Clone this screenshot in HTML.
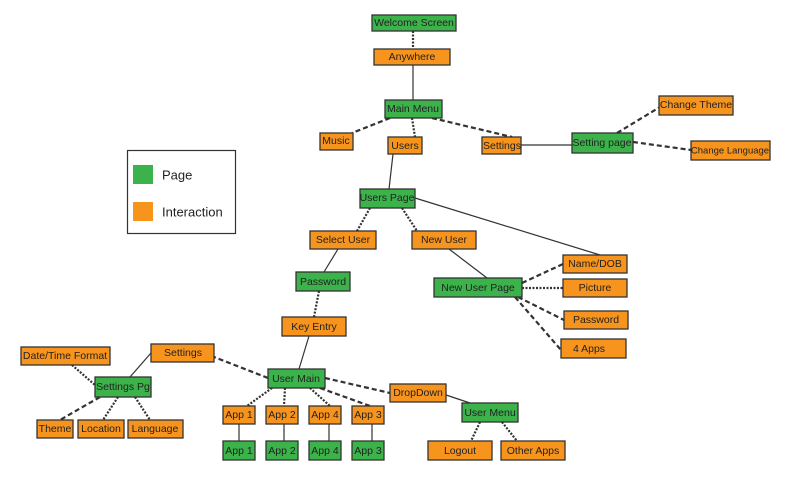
<!DOCTYPE html>
<html><head><meta charset="utf-8"><style>
html,body{margin:0;padding:0;background:#fff;}
svg{display:block;}
text{font-family:"Liberation Sans",sans-serif;font-size:10.5px;fill:#222;text-anchor:middle;dominant-baseline:central;}
.g{fill:#3bb34a;stroke:#333;stroke-width:1.3;}
.o{fill:#f7941d;stroke:#333;stroke-width:1.3;}
.s{stroke:#333;stroke-width:1.2;fill:none;}
.d{stroke:#333;stroke-width:2.2;stroke-dasharray:5,3;fill:none;}
.t{stroke:#333;stroke-width:2.2;stroke-dasharray:2,1.5;fill:none;}
</style></head><body>
<svg width="800" height="493" viewBox="0 0 800 493">
<line class="t" x1="413" y1="31" x2="413" y2="49"/>
<line class="s" x1="413" y1="65" x2="413" y2="100"/>
<line class="d" x1="390" y1="118" x2="352" y2="133"/>
<line class="t" x1="412" y1="118" x2="415" y2="137"/>
<line class="d" x1="432" y1="118" x2="512" y2="137"/>
<line class="s" x1="521" y1="145" x2="572" y2="145"/>
<line class="d" x1="617" y1="133" x2="660" y2="107"/>
<line class="d" x1="633" y1="142" x2="691" y2="150"/>
<line class="s" x1="393" y1="154" x2="389" y2="189"/>
<line class="t" x1="370" y1="208" x2="357" y2="231"/>
<line class="t" x1="402" y1="208" x2="417" y2="231"/>
<line class="s" x1="415" y1="198" x2="600" y2="255"/>
<line class="s" x1="338" y1="249" x2="324" y2="272"/>
<line class="t" x1="319" y1="291" x2="314" y2="317"/>
<line class="s" x1="309" y1="336" x2="299" y2="369"/>
<line class="s" x1="449" y1="249" x2="487" y2="278"/>
<line class="d" x1="522" y1="283" x2="563" y2="264"/>
<line class="t" x1="522" y1="288" x2="563" y2="288"/>
<line class="d" x1="518" y1="297" x2="564" y2="320"/>
<line class="d" x1="515" y1="297" x2="561" y2="350"/>
<line class="d" x1="268" y1="378" x2="214" y2="357"/>
<line class="s" x1="151" y1="353" x2="130" y2="377"/>
<line class="t" x1="72" y1="365" x2="95" y2="385"/>
<line class="d" x1="100" y1="397" x2="60" y2="420"/>
<line class="t" x1="118" y1="397" x2="103" y2="420"/>
<line class="t" x1="135" y1="397" x2="150" y2="420"/>
<line class="t" x1="272" y1="388" x2="247" y2="406"/>
<line class="t" x1="285" y1="388" x2="284" y2="406"/>
<line class="t" x1="310" y1="388" x2="330" y2="406"/>
<line class="d" x1="320" y1="388" x2="370" y2="406"/>
<line class="s" x1="239" y1="424" x2="239" y2="441"/>
<line class="s" x1="284" y1="424" x2="284" y2="441"/>
<line class="s" x1="329" y1="424" x2="329" y2="441"/>
<line class="s" x1="372" y1="424" x2="372" y2="441"/>
<line class="d" x1="325" y1="378" x2="390" y2="393"/>
<line class="s" x1="446" y1="395" x2="470" y2="403"/>
<line class="t" x1="480" y1="422" x2="471" y2="441"/>
<line class="t" x1="502" y1="422" x2="517" y2="441"/>
<rect x="127.5" y="150.5" width="108" height="83" fill="#fff" stroke="#333" stroke-width="1.2"/>
<rect x="133" y="165" width="20" height="19" fill="#3bb34a"/>
<rect x="133" y="202" width="20" height="19" fill="#f7941d"/>
<text x="162" y="175" style="text-anchor:start;font-size:13px">Page</text>
<text x="162" y="212" style="text-anchor:start;font-size:13px">Interaction</text>
<g>
<rect class="g" x="372" y="15" width="84" height="16"/><text x="414" y="23">Welcome Screen</text>
<rect class="o" x="374" y="49" width="76" height="16"/><text x="412" y="57">Anywhere</text>
<rect class="g" x="385" y="100" width="57" height="18"/><text x="413" y="109">Main Menu</text>
<rect class="o" x="320" y="133" width="33" height="17"/><text x="336" y="141">Music</text>
<rect class="o" x="388" y="137" width="34" height="17"/><text x="405" y="146">Users</text>
<rect class="o" x="482" y="137" width="39" height="17"/><text x="502" y="146">Settings</text>
<rect class="g" x="572" y="133" width="61" height="20"/><text x="602" y="143">Setting page</text>
<rect class="o" x="659" y="96" width="74" height="19"/><text x="696" y="105">Change Theme</text>
<rect class="o" x="691" y="141" width="79" height="19"/><text x="730" y="151" style="font-size:9.5px">Change Language</text>
<rect class="g" x="360" y="189" width="55" height="19"/><text x="387" y="198">Users Page</text>
<rect class="o" x="310" y="231" width="66" height="18"/><text x="343" y="240">Select User</text>
<rect class="o" x="412" y="231" width="64" height="18"/><text x="444" y="240">New User</text>
<rect class="o" x="563" y="255" width="64" height="18"/><text x="595" y="264">Name/DOB</text>
<rect class="g" x="434" y="278" width="88" height="19"/><text x="478" y="288">New User Page</text>
<rect class="o" x="563" y="279" width="64" height="18"/><text x="595" y="288">Picture</text>
<rect class="o" x="564" y="311" width="64" height="18"/><text x="596" y="320">Password</text>
<rect class="o" x="561" y="339" width="65" height="19"/><text x="589" y="349">4 Apps</text>
<rect class="g" x="296" y="272" width="54" height="19"/><text x="323" y="282">Password</text>
<rect class="o" x="282" y="317" width="64" height="19"/><text x="314" y="327">Key Entry</text>
<rect class="o" x="151" y="344" width="63" height="18"/><text x="183" y="353">Settings</text>
<rect class="o" x="21" y="347" width="89" height="18"/><text x="65" y="356">Date/Time Format</text>
<rect class="g" x="95" y="377" width="56" height="20"/><text x="123" y="387">Settings Pg</text>
<rect class="g" x="268" y="369" width="57" height="19"/><text x="296" y="379">User Main</text>
<rect class="o" x="390" y="384" width="56" height="18"/><text x="418" y="393">DropDown</text>
<rect class="g" x="462" y="403" width="56" height="19"/><text x="490" y="413">User Menu</text>
<rect class="o" x="37" y="420" width="36" height="18"/><text x="55" y="429">Theme</text>
<rect class="o" x="78" y="420" width="46" height="18"/><text x="101" y="429">Location</text>
<rect class="o" x="128" y="420" width="55" height="18"/><text x="155" y="429">Language</text>
<rect class="o" x="223" y="406" width="32" height="18"/><text x="239" y="415">App 1</text>
<rect class="o" x="266" y="406" width="32" height="18"/><text x="282" y="415">App 2</text>
<rect class="o" x="309" y="406" width="32" height="18"/><text x="325" y="415">App 4</text>
<rect class="o" x="352" y="406" width="32" height="18"/><text x="368" y="415">App 3</text>
<rect class="g" x="223" y="441" width="32" height="19"/><text x="239" y="451">App 1</text>
<rect class="g" x="266" y="441" width="32" height="19"/><text x="282" y="451">App 2</text>
<rect class="g" x="309" y="441" width="32" height="19"/><text x="325" y="451">App 4</text>
<rect class="g" x="352" y="441" width="32" height="19"/><text x="368" y="451">App 3</text>
<rect class="o" x="428" y="441" width="64" height="19"/><text x="460" y="451">Logout</text>
<rect class="o" x="501" y="441" width="64" height="19"/><text x="533" y="451">Other Apps</text>
</g>
</svg>
</body></html>
